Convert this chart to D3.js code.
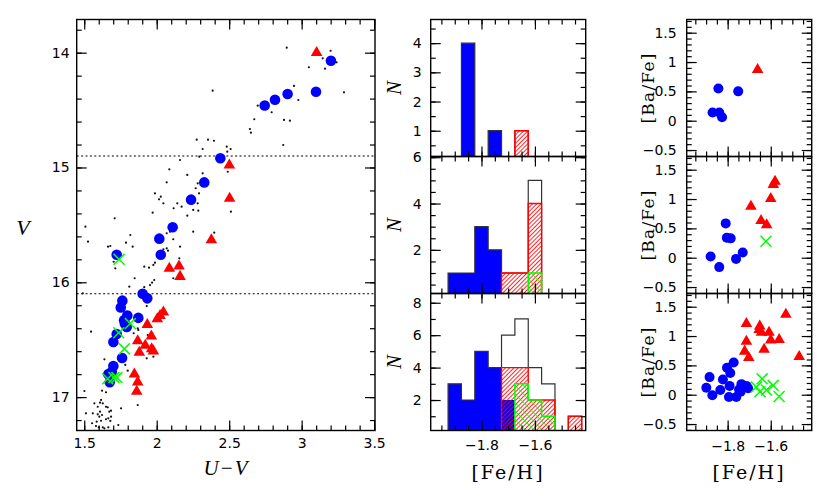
<!DOCTYPE html>
<html>
<head>
<meta charset="utf-8">
<script src="https://cdn.jsdelivr.net/npm/d3@7"></script>
<style>
  body { margin: 0; background: #fff; }
</style>
</head>
<body>
<div id="chart"></div>
<script>

// ---- data ----
// CMD: [U-V, V]
const cmdDots = [
  [2.897,13.956],[3.200,13.983],[3.145,14.049],[3.241,14.084],[3.050,14.127],[3.161,14.139],
  [2.386,14.331],[3.292,14.345],[2.947,14.290],[2.977,14.412],[2.697,14.462],[2.793,14.519],
  [2.673,14.580],[2.878,14.586],[2.919,14.592],[2.643,14.665],[2.650,14.697],[2.873,14.804],
  [2.276,14.758],[2.354,14.758],[2.395,14.767],[2.483,14.819],[2.510,14.839],[2.487,14.862],
  [2.317,14.839],[2.294,14.906],[2.161,14.935],[2.087,15.016],[2.490,15.037],[2.211,15.065],
  [2.317,15.051],[2.269,15.181],[2.292,15.225],[2.283,15.138],[2.069,15.129],[1.988,15.225],
  [2.028,15.254],[2.016,15.277],[2.046,15.312],[2.142,15.312],[2.172,15.341],[2.117,15.355],
  [2.283,15.312],[2.287,15.376],[2.252,15.370],[2.211,15.420],[1.972,15.394],[2.512,15.385],
  [1.710,15.443],[1.508,15.516],[2.069,15.573],[2.092,15.559],[2.252,15.559],[2.397,15.568],
  [1.818,15.588],[1.526,15.646],[2.114,15.625],[1.788,15.655],[1.834,15.690],[1.664,15.690],
  [1.680,15.684],[2.069,15.704],[2.078,15.725],[2.161,15.690],[2.046,15.713],[1.703,15.821],
  [1.714,15.878],[1.988,15.829],[1.977,15.849],[1.947,15.873],[1.914,15.864],[2.156,15.791],
  [2.114,15.965],[1.848,15.965],[1.983,15.980],[1.968,16.003],[1.954,16.024],[1.811,16.038],
  [1.914,16.043],[1.490,16.096],[1.931,16.207],[1.547,16.430],[1.841,16.444],[1.869,16.401],
  [1.783,16.720],[1.800,16.770],[1.639,16.671],[1.873,16.415],[1.938,16.459],[1.977,16.648],
  [1.931,16.662],[1.869,17.069],[1.501,16.947],[1.623,16.944],[1.650,16.958],[1.616,17.025],
  [1.609,17.049],[1.628,17.054],[1.570,17.054],[1.650,17.084],[1.662,17.089],[1.593,17.084],
  [1.754,17.098],[1.685,17.118],[1.673,17.127],[1.512,17.141],[1.609,17.127],[1.593,17.150],
  [1.623,17.156],[1.604,17.171],[1.559,17.141],[1.685,17.171],[1.650,17.193],[1.666,17.185],
  [1.554,17.228],[1.586,17.214],[1.616,17.206],[1.680,17.208],[1.628,17.263],[1.639,17.272],
  [1.600,17.263],[1.581,17.252],[1.666,17.263],[1.735,17.243]
];
const cmdBlue = [
  [3.202,14.07],[3.099,14.34],[2.903,14.36],[2.816,14.41],[2.745,14.46],[2.439,14.92],
  [2.328,15.13],[2.237,15.28],[2.110,15.52],[2.018,15.62],[2.028,15.76],[1.724,15.76],
  [1.903,16.10],[1.935,16.14],[1.763,16.16],[1.752,16.22],[1.797,16.29],[1.873,16.31],
  [1.775,16.33],[1.793,16.39],[1.724,16.45],[1.701,16.52],[1.761,16.66],[1.701,16.73],
  [1.666,16.80],[1.676,16.87],[1.690,16.78],[1.780,16.36]
];
const cmdRed = [
  [3.103,14.00],[2.501,14.98],[2.503,15.27],[2.377,15.63],[2.087,15.88],[2.154,15.86],
  [2.161,15.95],[2.046,16.26],[2.023,16.29],[2.004,16.32],[1.935,16.37],[1.963,16.47],
  [1.869,16.51],[1.921,16.55],[1.965,16.58],[1.977,16.60],[1.880,16.61],[1.846,16.80],
  [1.869,16.87],[1.862,16.95]
];
const cmdGreen = [
  [1.740,15.80],[1.818,16.36],[1.738,16.44],[1.777,16.58],[1.662,16.84],[1.705,16.83],[1.725,16.83]
];
const vCuts = [14.9, 16.1];

// histograms of [Fe/H], 0.05 dex bins
const binCenters = [-1.9, -1.85, -1.8, -1.75, -1.7, -1.65, -1.6, -1.55, -1.5, -1.45];
const histBlue  = [[0,4,0,1,0,0,0,0,0,0], [1,1,3,2,0,0,0,0,0,0], [3,2,5,4,2,0,0,0,0,0]];
const histRed   = [[0,0,0,0,0,1,0,0,0,0], [0,0,0,0,1,1,4,0,0,0], [0,0,0,0,4,4,2,2,0,1]];
const histGreen = [[0,0,0,0,0,0,0,0,0,0], [0,0,0,0,0,0,1,0,0,0], [0,0,0,0,0,3,2,1,0,0]];

// [Fe/H] vs [Ba/Fe], one set per magnitude bin
const baBlue = [
  [[-1.843,0.55],[-1.751,0.50],[-1.870,0.14],[-1.839,0.14],[-1.826,0.06]],
  [[-1.809,0.585],[-1.804,0.34],[-1.786,0.33],[-1.879,0.02],[-1.839,-0.16],[-1.761,-0.02],[-1.730,0.09]],
  [[-1.884,0.30],[-1.899,0.12],[-1.871,-0.01],[-1.834,0.08],[-1.822,0.26],[-1.803,0.46],[-1.772,0.55],
   [-1.788,0.37],[-1.791,0.15],[-1.794,-0.04],[-1.760,-0.04],[-1.747,0.09],[-1.736,0.18],[-1.713,0.15],
   [-1.705,0.11],[-1.740,0.05]]
];
const baRed = [
  [[-1.661,0.87]],
  [[-1.580,1.30],[-1.588,1.245],[-1.600,1.005],[-1.692,0.875],[-1.645,0.63],[-1.619,0.56]],
  [[-1.713,1.21],[-1.651,1.17],[-1.654,1.11],[-1.643,1.06],[-1.608,1.06],[-1.713,0.91],[-1.600,0.93],
   [-1.561,0.94],[-1.721,0.74],[-1.631,0.77],[-1.702,0.63],[-1.530,1.37],[-1.468,0.65]]
];
const baGreen = [
  [],
  [[-1.622,0.28]],
  [[-1.640,0.27],[-1.667,0.13],[-1.650,0.05],[-1.620,0.08],[-1.589,0.16],[-1.561,-0.03]]
];

const cmdXTicks = [1.5, 2, 2.5, 3, 3.5];
const cmdYTicks = [14, 15, 16, 17];
const fehTicks = [-1.8, -1.6];
const histYTicks = [[1,2,3,4], [2,4,6], [2,4,6,8]];
const baTicks = [-0.5, 0, 0.5, 1, 1.5];

// ---- layout ----
const W = 817, H = 496;
const rowTop = [19.5, 156.5, 293.5], rowH = 137;
const cmdBox = {left: 76.7, right: 375, top: 19.5, bottom: 430.5};
const histBox = {left: 430.7, right: 585.7};
const baBox = {left: 686.7, right: 811.7};
const histYDomain = [[0.117, 4.81], [0.116, 6.03], [0.12, 8.57]];
const fehDomain = [-1.99, -1.41];
const baDomain = [-0.61, 1.725];

const BLUE = "#0000ff", RED = "#ff0000", GREEN = "#00ff00";
const tickFont = "DejaVu Sans, sans-serif";
const fmt = d3.format("~g");

const svg = d3.select("#chart").append("svg")
  .attr("width", W).attr("height", H)
  .style("background", "#fff");

const defs = svg.append("defs");
defs.append("pattern").attr("id", "hatchRed")
  .attr("width", 3).attr("height", 3)
  .attr("patternUnits", "userSpaceOnUse")
  .attr("patternTransform", "rotate(45)")
  .append("line").attr("x1", 0).attr("y1", 0).attr("x2", 0).attr("y2", 3)
  .attr("stroke", RED).attr("stroke-width", 1.7);
defs.append("pattern").attr("id", "hatchGreen")
  .attr("width", 6).attr("height", 6)
  .attr("patternUnits", "userSpaceOnUse")
  .attr("patternTransform", "rotate(-45)")
  .append("line").attr("x1", 0).attr("y1", 0).attr("x2", 0).attr("y2", 6)
  .attr("stroke", GREEN).attr("stroke-width", 1.5);

// minor tick values between domain ends
function steps(domain, step) {
  const lo = Math.min(domain[0], domain[1]), hi = Math.max(domain[0], domain[1]);
  const out = [];
  for (let i = Math.ceil(lo / step - 1e-9); i * step <= hi + 1e-9; i++) out.push(+(i * step).toFixed(4));
  return out;
}

// one axis side: inward ticks, optional labels
function side(g, scale, orient, values, size, w, h, labels, pad) {
  const gen = {bottom: d3.axisBottom, top: d3.axisTop, left: d3.axisLeft, right: d3.axisRight}[orient](scale)
    .tickValues(values)
    .tickSize(-size)
    .tickPadding(pad || 0)
    .tickFormat(labels ? fmt : () => "");
  const pos = orient === "bottom" ? [0, h] : orient === "right" ? [w, 0] : [0, 0];
  const a = g.append("g").attr("transform", `translate(${pos})`).call(gen);
  a.select(".domain").remove();
  a.selectAll("line").attr("stroke", "#000").attr("stroke-width", 1.2);
  a.selectAll("text").attr("font-family", tickFont).attr("font-size", 14).attr("fill", "#000");
}

function frame(g, x, y, w, h, o) {
  const xMinor = steps(x.domain(), o.xMinor), yMinor = steps(y.domain(), o.yMinor);
  const xMajor = o.xMajor.filter(v => v >= Math.min(...x.domain()) && v <= Math.max(...x.domain()));
  const yMajor = o.yMajor;
  ["bottom", "top"].forEach(s => {
    side(g, x, s, xMinor, 5, w, h, false);
    side(g, x, s, xMajor, 10, w, h, s === "bottom" && o.xLabels, o.xPad);
  });
  ["left", "right"].forEach(s => {
    side(g, y, s, yMinor, 5, w, h, false);
    side(g, y, s, yMajor, 10, w, h, s === "left", o.yPad);
  });
  g.append("rect").attr("width", w).attr("height", h)
    .attr("fill", "none").attr("stroke", "#000").attr("stroke-width", 1.4);
}

function panel(box, top, h, id) {
  const w = box.right - box.left;
  const g = svg.append("g").attr("transform", `translate(${box.left},${top})`);
  defs.append("clipPath").attr("id", id).append("rect").attr("width", w).attr("height", h);
  const plot = g.append("g").attr("clip-path", `url(#${id})`);
  return {g, plot, w, h};
}

const tri = d3.symbol(d3.symbolTriangle, 58);
const cross = d3.symbol(d3.symbolTimes, 80);

function markers(plot, x, y, blue, red, green, r) {
  plot.append("g").selectAll("circle").data(blue).join("circle")
    .attr("cx", d => x(d[0])).attr("cy", d => y(d[1])).attr("r", r).attr("fill", BLUE);
  plot.append("g").selectAll("path").data(red).join("path")
    .attr("transform", d => `translate(${x(d[0])},${y(d[1])})`).attr("d", tri).attr("fill", RED);
  plot.append("g").selectAll("path").data(green).join("path")
    .attr("transform", d => `translate(${x(d[0])},${y(d[1])})`).attr("d", cross)
    .attr("fill", "none").attr("stroke", GREEN).attr("stroke-width", 1.5);
}

// ---- CMD ----
{
  const p = panel(cmdBox, cmdBox.top, cmdBox.bottom - cmdBox.top, "clipCmd");
  const x = d3.scaleLinear().domain([1.448, 3.506]).range([0, p.w]);
  const y = d3.scaleLinear().domain([13.711, 17.291]).range([0, p.h]);

  p.plot.selectAll(".cut").data(vCuts).join("line")
    .attr("x1", 0).attr("x2", p.w).attr("y1", d => y(d)).attr("y2", d => y(d))
    .attr("stroke", "#000").attr("stroke-width", 1.2).attr("stroke-dasharray", "2,2.4");
  p.plot.append("g").selectAll("circle").data(cmdDots).join("circle")
    .attr("cx", d => x(d[0])).attr("cy", d => y(d[1])).attr("r", 1.1).attr("fill", "#111");
  markers(p.plot, x, y, cmdBlue, cmdRed, cmdGreen, 5.3);

  frame(p.g, x, y, p.w, p.h, {xMinor: 0.1, yMinor: 0.2, xMajor: cmdXTicks, yMajor: cmdYTicks,
    xLabels: true, xPad: 8, yPad: 7});

  svg.append("text").attr("x", 226).attr("y", 475).attr("text-anchor", "middle")
    .attr("font-family", "Liberation Serif, serif").attr("font-style", "italic")
    .attr("font-size", 21).attr("letter-spacing", 1).text("U\u2212V");
  svg.append("text").attr("x", 23).attr("y", 235).attr("text-anchor", "middle")
    .attr("font-family", "Liberation Serif, serif").attr("font-style", "italic")
    .attr("font-size", 22).text("V");
}

// ---- histograms ----
function stepPath(counts, x, y) {
  const half = 0.025, p = d3.path();
  let open = false;
  counts.forEach((c, i) => {
    const x0 = x(binCenters[i] - half), x1 = x(binCenters[i] + half);
    if (c > 0) {
      if (!open) { p.moveTo(x0, y(0)); open = true; }
      p.lineTo(x0, y(c));
      p.lineTo(x1, y(c));
    } else if (open) {
      p.lineTo(x0, y(0)); p.closePath(); open = false;
    }
  });
  if (open) { p.lineTo(x(binCenters[binCenters.length - 1] + half), y(0)); p.closePath(); }
  return p.toString();
}

rowTop.forEach((top, k) => {
  const p = panel(histBox, top, rowH, "clipHist" + k);
  const x = d3.scaleLinear().domain(fehDomain).range([0, p.w]);
  const y = d3.scaleLinear().domain(histYDomain[k]).range([p.h, 0]);
  const total = binCenters.map((_, i) => histBlue[k][i] + histRed[k][i] + histGreen[k][i]);

  p.plot.append("path").attr("d", stepPath(histBlue[k], x, y)).attr("fill", BLUE).attr("stroke", "none");
  p.plot.append("path").attr("d", stepPath(total, x, y)).attr("fill", "none")
    .attr("stroke", "#333").attr("stroke-width", 1.2);
  p.plot.append("path").attr("d", stepPath(histRed[k], x, y)).attr("fill", "url(#hatchRed)")
    .attr("stroke", RED).attr("stroke-width", 1.4);
  p.plot.append("path").attr("d", stepPath(histGreen[k], x, y)).attr("fill", "url(#hatchGreen)")
    .attr("stroke", GREEN).attr("stroke-width", 1.5);

  frame(p.g, x, y, p.w, p.h, {xMinor: 0.05, yMinor: k === 2 ? 1 : 0.5, xMajor: fehTicks,
    yMajor: histYTicks[k], xLabels: k === 2, xPad: 10, yPad: 9});

  svg.append("text")
    .attr("transform", `translate(${histBox.left - 37},${top + rowH / 2}) rotate(-90)`)
    .attr("text-anchor", "middle").attr("dy", "0.35em")
    .attr("font-family", "Liberation Serif, serif").attr("font-style", "italic")
    .attr("font-size", 21).text("N");
});

// ---- [Ba/Fe] vs [Fe/H] ----
rowTop.forEach((top, k) => {
  const p = panel(baBox, top, rowH, "clipBa" + k);
  const x = d3.scaleLinear().domain(fehDomain).range([0, p.w]);
  const y = d3.scaleLinear().domain(baDomain).range([p.h, 0]);
  markers(p.plot, x, y, baBlue[k], baRed[k], baGreen[k], 5);

  frame(p.g, x, y, p.w, p.h, {xMinor: 0.05, yMinor: 0.1, xMajor: fehTicks, yMajor: baTicks,
    xLabels: k === 2, xPad: 11, yPad: 10});

  svg.append("text")
    .attr("transform", `translate(${baBox.left - 39},${top + rowH / 2}) rotate(-90)`)
    .attr("text-anchor", "middle").attr("dy", "0.35em")
    .attr("font-family", "DejaVu Serif, serif").attr("font-size", 17)
    .attr("letter-spacing", 1.2).text("[Ba/Fe]");
});

[[histBox, 508], [baBox, 749]].forEach(([box, cx]) => {
  svg.append("text").attr("x", cx).attr("y", 479).attr("text-anchor", "middle")
    .attr("font-family", "DejaVu Serif, serif").attr("font-size", 19)
    .attr("letter-spacing", 2).text("[Fe/H]");
});

</script>
</body>
</html>
